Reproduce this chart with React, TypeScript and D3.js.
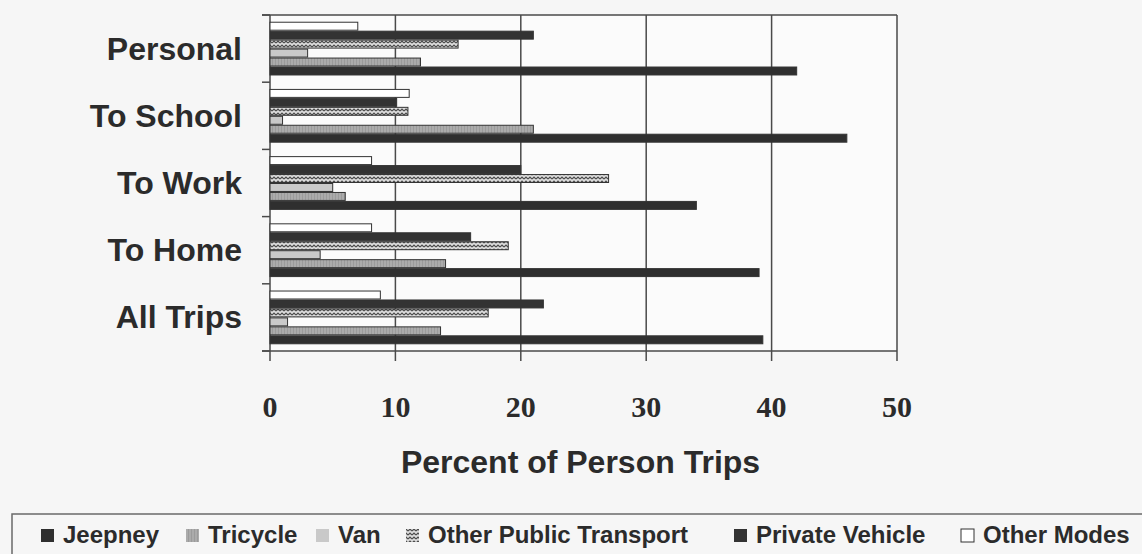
import * as d3 from "d3";

const categories = ["Personal", "To School", "To Work", "To Home", "All Trips"];

const seriesNames = [
  "Jeepney",
  "Tricycle",
  "Van",
  "Other Public Transport",
  "Private Vehicle",
  "Other Modes",
];

// percent of person trips, one value per category
const jeepney = [42, 46, 34, 39, 39.3];
const tricycle = [12, 21, 6, 14, 13.6];
const van = [3, 1, 5, 4, 1.4];
const otherPublic = [15, 11, 27, 19, 17.4];
const privateVehicle = [21, 10.1, 20, 16, 21.8];
const otherModes = [7, 11.1, 8.1, 8.1, 8.8];

const xTicks = [0, 10, 20, 30, 40, 50];

const W = 1142;
const H = 554;
const plot = { left: 270, right: 897, top: 15, bottom: 351 };

const fills: Record<string, string> = {
  Jeepney: "#2f2f2f",
  Tricycle: "url(#pTricycle)",
  Van: "#c9c9c9",
  "Other Public Transport": "url(#pZigzag)",
  "Private Vehicle": "#333333",
  "Other Modes": "#ffffff",
};

// legend text x positions (layout)
const legendX = [63, 208, 338, 428, 756, 983];

export default function App() {
  const values = [jeepney, tricycle, van, otherPublic, privateVehicle, otherModes];

  const x = d3.scaleLinear().domain([0, 50]).range([plot.left, plot.right]);
  const y = d3
    .scaleBand<string>()
    .domain(categories)
    .range([plot.top, plot.bottom])
    .paddingInner(0.2)
    .paddingOuter(0.1);
  // top-down order inside a group: Other Modes first, Jeepney last
  const yInner = d3
    .scaleBand<string>()
    .domain([...seriesNames].reverse())
    .range([0, y.bandwidth()]);

  const step = y.step();
  const sepYs = [
    plot.top,
    ...categories.slice(1).map((c) => (y(c) ?? 0) - (step * y.paddingInner()) / 2),
    plot.bottom,
  ];

  const sans = "'Liberation Sans', Arial, sans-serif";
  const serif = "'Liberation Serif', 'Times New Roman', serif";

  return (
    <div style={{ position: "fixed", left: 0, top: 0 }}>
      <svg width={W} height={H} style={{ display: "block" }}>
        <defs>
          <pattern id="pTricycle" width={3} height={3} patternUnits="userSpaceOnUse">
            <rect width={3} height={3} fill="#9b9b9b" />
            <line x1={1} y1={0} x2={1} y2={3} stroke="#bcbcbc" strokeWidth={1} />
          </pattern>
          <pattern id="pZigzag" width={4} height={4} patternUnits="userSpaceOnUse">
            <rect width={4} height={4} fill="#dedede" />
            <path d="M0,3 L2,1 L4,3" fill="none" stroke="#4a4a4a" strokeWidth={1.2} />
          </pattern>
        </defs>

        <rect width={W} height={H} fill="#f6f6f6" />
        <rect
          x={plot.left}
          y={plot.top}
          width={plot.right - plot.left}
          height={plot.bottom - plot.top}
          fill="#fbfbfb"
        />

        {/* vertical gridlines + ticks below axis */}
        {xTicks.map((t) => (
          <line
            key={t}
            x1={x(t)}
            x2={x(t)}
            y1={plot.top}
            y2={plot.bottom + 10}
            stroke="#4a4a4a"
            strokeWidth={1.5}
          />
        ))}
        {/* top border and x axis */}
        <line x1={plot.left - 8} x2={plot.right} y1={plot.top} y2={plot.top} stroke="#4a4a4a" strokeWidth={1.5} />
        <line x1={plot.left - 8} x2={plot.right} y1={plot.bottom} y2={plot.bottom} stroke="#4a4a4a" strokeWidth={1.5} />
        {sepYs.map((sy, i) => (
          <line key={i} x1={plot.left - 8} x2={plot.left} y1={sy} y2={sy} stroke="#4a4a4a" strokeWidth={1.5} />
        ))}

        {/* bars */}
        {seriesNames.map((s, si) =>
          categories.map((c, ci) => (
            <rect
              key={s + c}
              x={x(0)}
              y={(y(c) ?? 0) + (yInner(s) ?? 0) + 0.5}
              width={x(values[si][ci]) - x(0)}
              height={yInner.bandwidth() - 1}
              fill={fills[s]}
              stroke="#333"
              strokeWidth={1}
            />
          ))
        )}

        {/* category labels */}
        {categories.map((c) => (
          <text
            key={c}
            x={242}
            y={(y(c) ?? 0) + y.bandwidth() / 2 + 11}
            textAnchor="end"
            fontFamily={sans}
            fontWeight="bold"
            fontSize={32}
            fill="#2b2b2b"
          >
            {c}
          </text>
        ))}

        {/* x tick labels */}
        {xTicks.map((t) => (
          <text
            key={t}
            x={x(t)}
            y={417}
            textAnchor="middle"
            fontFamily={serif}
            fontWeight="bold"
            fontSize={30}
            fill="#2b2b2b"
          >
            {t}
          </text>
        ))}

        <text
          x={(plot.left + plot.right) / 2 - 3}
          y={473}
          textAnchor="middle"
          fontFamily={sans}
          fontWeight="bold"
          fontSize={32}
          fill="#2b2b2b"
        >
          Percent of Person Trips
        </text>

        {/* legend */}
        <rect x={12} y={514} width={W} height={60} fill="none" stroke="#6a6a6a" strokeWidth={1.5} />
        {seriesNames.map((s, i) => (
          <g key={s}>
            <rect
              x={legendX[i] - 22}
              y={529}
              width={13}
              height={13}
              fill={fills[s]}
              stroke={s === "Other Modes" ? "#333" : "none"}
              strokeWidth={1}
            />
            <text
              x={legendX[i]}
              y={543}
              fontFamily={sans}
              fontWeight="bold"
              fontSize={24}
              fill="#2b2b2b"
            >
              {s}
            </text>
          </g>
        ))}
      </svg>
    </div>
  );
}
